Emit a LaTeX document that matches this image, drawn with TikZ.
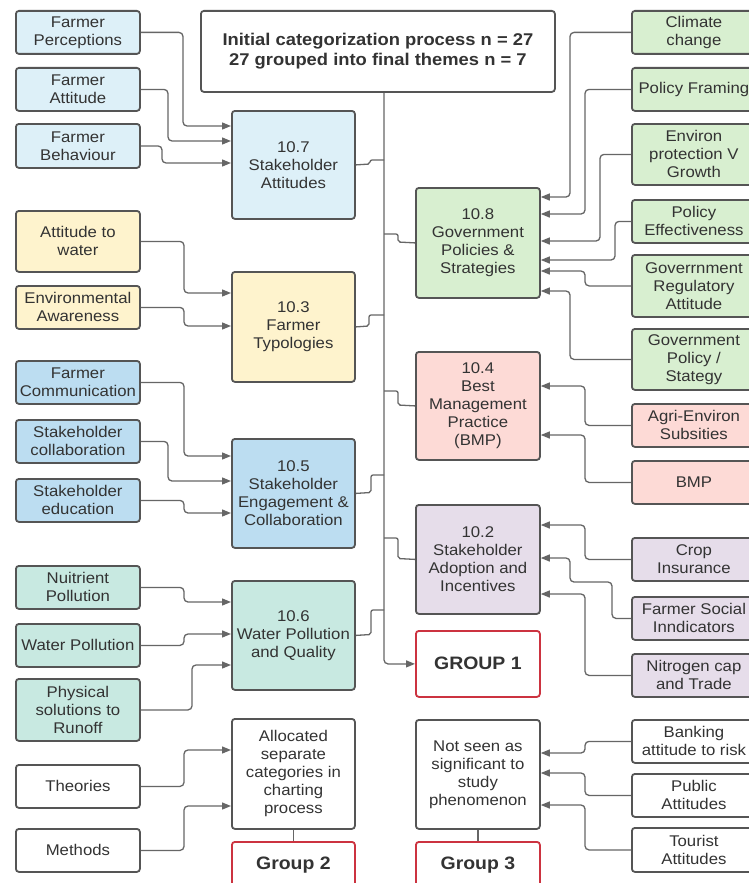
\documentclass[tikz,border=0pt]{standalone}
\usepackage{fontspec}
\setmainfont[FakeStretch=1.08]{Liberation Sans}
\usetikzlibrary{arrows.meta}
\definecolor{cLB}{HTML}{DDF0F8}
\definecolor{cYE}{HTML}{FEF3CD}
\definecolor{cBL}{HTML}{BCDDF1}
\definecolor{cTE}{HTML}{C8E9E1}
\definecolor{cGR}{HTML}{D8EFD0}
\definecolor{cPK}{HTML}{FDDAD6}
\definecolor{cLV}{HTML}{E6DDEA}
\definecolor{cBD}{HTML}{555555}
\definecolor{cRD}{HTML}{CC3340}
\definecolor{cLN}{HTML}{666666}
\definecolor{cTX}{HTML}{333333}
\tikzset{
  box/.style={draw=cBD, line width=1.8pt, rounded corners=3pt, anchor=north west,
    inner sep=0pt, align=center, text=cTX, font=\fontsize{15.5}{18}\selectfont},
  grp/.style={box, draw=cRD, fill=white, font=\bfseries\fontsize{18}{21}\selectfont},
  conn/.style={draw=cLN, line width=1.3pt, rounded corners=4pt},
  jog/.style={conn, rounded corners=2pt},
  arr/.style={conn, -{Triangle[length=9pt,width=7pt]}},
}
\begin{document}
\begin{tikzpicture}[x=1pt,y=-1pt]
\clip (0,0) rectangle (749,883);
\fill[white] (0,0) rectangle (749,883);
% title
\node[box, fill=white, minimum width=354pt, minimum height=81pt, font=\bfseries\fontsize{17}{19.5}\selectfont] (title) at (200,10)
  {\raisebox{3pt}{\begin{tabular}{@{}c@{}}Initial categorization process n = 27\\27 grouped into final themes n = 7\end{tabular}}};
% left column
\node[box, fill=cLB, minimum width=124pt, minimum height=43pt] (fp) at (15,10) {Farmer\\Perceptions};
\node[box, fill=cLB, minimum width=124pt, minimum height=43pt] (fa) at (15,67) {Farmer\\Attitude};
\node[box, fill=cLB, minimum width=124pt, minimum height=44pt] (fb) at (15,123) {Farmer\\Behaviour};
\node[box, fill=cYE, minimum width=124pt, minimum height=61pt] (aw) at (15,210) {Attitude to\\water};
\node[box, fill=cYE, minimum width=124pt, minimum height=43pt] (ea) at (15,285) {Environmental\\Awareness};
\node[box, fill=cBL, minimum width=124pt, minimum height=43pt] (fc) at (15,360) {Farmer\\Communication};
\node[box, fill=cBL, minimum width=124pt, minimum height=43pt] (sc) at (15,419) {Stakeholder\\collaboration};
\node[box, fill=cBL, minimum width=124pt, minimum height=43pt] (se) at (15,478) {Stakeholder\\education};
\node[box, fill=cTE, minimum width=124pt, minimum height=43pt] (np) at (15,565) {Nuitrient\\Pollution};
\node[box, fill=cTE, minimum width=124pt, minimum height=43pt] (wp) at (15,623) {Water Pollution};
\node[box, fill=cTE, minimum width=124pt, minimum height=62pt] (ps) at (15,678) {Physical\\solutions to\\Runoff};
\node[box, fill=white, minimum width=124pt, minimum height=43pt] (th) at (15,764) {Theories};
\node[box, fill=white, minimum width=124pt, minimum height=43pt] (me) at (15,828) {Methods};
% middle-left column
\node[box, fill=cLB, minimum width=123pt, minimum height=108pt] (b107) at (231,110) {10.7\\Stakeholder\\Attitudes};
\node[box, fill=cYE, minimum width=123pt, minimum height=110pt] (b103) at (231,271) {10.3\\Farmer\\Typologies};
\node[box, fill=cBL, minimum width=123pt, minimum height=109pt] (b105) at (231,438) {10.5\\Stakeholder\\Engagement \&\\Collaboration};
\node[box, fill=cTE, minimum width=123pt, minimum height=109pt] (b106) at (231,580) {\raisebox{3pt}{\begin{tabular}{@{}c@{}}10.6\\Water Pollution\\and Quality\end{tabular}}};
\node[box, fill=white, minimum width=123pt, minimum height=110pt] (alloc) at (231,718) {Allocated\\separate\\categories in\\charting\\process};
\node[grp, minimum width=123pt, minimum height=46pt] (g2) at (231,841) {\raisebox{4pt}{Group 2}};
% middle-right column
\node[box, fill=cGR, minimum width=124pt, minimum height=110pt] (b108) at (415,187) {10.8\\Government\\Policies \&\\Strategies};
\node[box, fill=cPK, minimum width=124pt, minimum height=108pt] (b104) at (415,351) {10.4\\Best\\Management\\Practice\\(BMP)};
\node[box, fill=cLV, minimum width=124pt, minimum height=109pt] (b102) at (415,504) {10.2\\Stakeholder\\Adoption and\\Incentives};
\node[grp, minimum width=124pt, minimum height=66pt] (g1) at (415,630) {\raisebox{2pt}{GROUP 1}};
\node[box, fill=white, minimum width=124pt, minimum height=109pt] (ns) at (415,719) {Not seen as\\significant to\\study\\phenomenon};
\node[grp, minimum width=124pt, minimum height=46pt] (g3) at (415,841) {\raisebox{4pt}{Group 3}};
% right column
\node[box, fill=cGR, minimum width=124pt, minimum height=43pt] (cc) at (631,10) {Climate\\change};
\node[box, fill=cGR, minimum width=124pt, minimum height=43pt] (pf) at (631,67) {Policy Framing};
\node[box, fill=cGR, minimum width=124pt, minimum height=61pt] (ep) at (631,123) {Environ\\protection V\\Growth};
\node[box, fill=cGR, minimum width=124pt, minimum height=43pt] (pe) at (631,199) {Policy\\Effectiveness};
\node[box, fill=cGR, minimum width=124pt, minimum height=62pt] (gr) at (631,254) {Goverrnment\\Regulatory\\Attitude};
\node[box, fill=cGR, minimum width=124pt, minimum height=61pt] (gp) at (631,328) {Government\\Policy /\\Stategy};
\node[box, fill=cPK, minimum width=124pt, minimum height=43pt] (ae) at (631,403) {Agri-Environ\\Subsities};
\node[box, fill=cPK, minimum width=124pt, minimum height=43pt] (bmp) at (631,460) {BMP};
\node[box, fill=cLV, minimum width=124pt, minimum height=43pt] (ci) at (631,537) {Crop\\Insurance};
\node[box, fill=cLV, minimum width=124pt, minimum height=43pt] (fs) at (631,596) {Farmer Social\\Inndicators};
\node[box, fill=cLV, minimum width=124pt, minimum height=43pt] (nc) at (631,653) {Nitrogen cap\\and Trade};
\node[box, fill=white, minimum width=124pt, minimum height=43pt] (ba) at (631,719) {Banking\\attitude to risk};
\node[box, fill=white, minimum width=124pt, minimum height=43pt] (pa) at (631,773) {Public\\Attitudes};
\node[box, fill=white, minimum width=124pt, minimum height=44pt] (ta) at (631,827) {Tourist\\Attitudes};
% spine
\coordinate (sp) at (384,0);
\draw[arr] (title.south -| sp) |- (g1.west);
% left inputs
\draw[arr] (fp.east) -| (183,126) -- (b107.west |- 0,126);
\draw[arr] (fa.east) -| (168,141) -- (b107.west |- 0,141);
\draw[arr] (fb.east) -| (162,163) -- (b107.west |- 0,163);
\draw[arr] (aw.east) -| (184,293) -- (b103.west |- 0,293);
\draw[arr] (ea.east) -| (184,326) -- (b103.west |- 0,326);
\draw[arr] (fc.east) -| (184,456) -- (b105.west |- 0,456);
\draw[arr] (sc.east) -| (168,481) -- (b105.west |- 0,481);
\draw[arr] (se.east) -| (184,513) -- (b105.west |- 0,513);
\draw[arr] (np.east) -| (184,602) -- (b106.west |- 0,602);
\draw[arr] (wp.east) -| (184,634) -- (b106.west |- 0,634);
\draw[arr] (ps.east) -| (192,665) -- (b106.west |- 0,665);
\draw[arr] (th.east) -| (184,750) -- (alloc.west |- 0,750);
\draw[arr] (me.east) -| (184,806) -- (alloc.west |- 0,806);
% middle-left to spine
\draw[jog] (b107.east) -- (370,164) -- (370,160) -- (sp |- 0,160);
\draw[jog] (b103.east) -- (369,326) -- (369,315) -- (sp |- 0,315);
\draw[jog] (b105.east) -- (371,492.5) -- (371,475) -- (sp |- 0,475);
\draw[jog] (b106.east) -- (371,634.5) -- (371,610) -- (sp |- 0,610);
% spine to middle-right
\draw[jog] (sp |- 0,234) -- (398,234) -- (398,242) -- (b108.west);
\draw[jog] (sp |- 0,391) -- (398,391) -- (398,405) -- (b104.west);
\draw[jog] (sp |- 0,538) -- (398,538) -- (398,558.5) -- (b102.west);
% right inputs
\draw[arr] (cc.west) -| (570,197) -- (b108.east |- 0,197);
\draw[arr] (pf.west) -| (585,214) -- (b108.east |- 0,214);
\draw[arr] (ep.west) -| (600,241) -- (b108.east |- 0,241);
\draw[arr] (pe.west) -| (615,260) -- (b108.east |- 0,260);
\draw[arr] (gr.west) -| (585,271) -- (b108.east |- 0,271);
\draw[arr] (gp.west) -| (570,291) -- (b108.east |- 0,291);
\draw[arr] (ae.west) -| (585,386) -- (b104.east |- 0,386);
\draw[arr] (bmp.west) -| (585,435) -- (b104.east |- 0,435);
\draw[arr] (ci.west) -| (585,525) -- (b102.east |- 0,525);
\draw[arr] (fs.west) -| (612,582) -| (570,558) -- (b102.east |- 0,558);
\draw[arr] (nc.west) -| (585,594) -- (b102.east |- 0,594);
\draw[arr] (ba.west) -| (585,753) -- (ns.east |- 0,753);
\draw[arr] (pa.west) -| (585,773) -- (ns.east |- 0,773);
\draw[arr] (ta.west) -| (585,805) -- (ns.east |- 0,805);
% group links
\draw[conn] (alloc.south) -- (g2.north);
\draw[conn] (ns.south) -- (g3.north);
\end{tikzpicture}
\end{document}
